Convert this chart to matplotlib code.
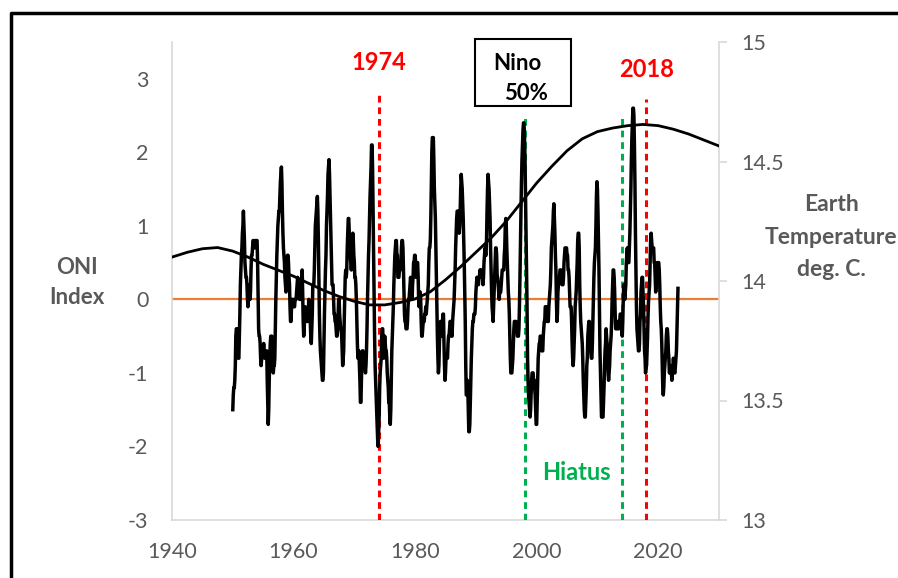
import matplotlib
matplotlib.use("Agg")
import matplotlib.pyplot as plt
from matplotlib.patches import Rectangle
from matplotlib.lines import Line2D
import numpy as np

plt.rcParams['font.family'] = ['Lato', 'DejaVu Sans']

# ONI index, 3-month seasons DJF..NDJ, one row per year
oni_1950s = [
    [-1.5, -1.3, -1.2, -1.2, -1.1, -0.9, -0.5, -0.4, -0.4, -0.4, -0.6, -0.8],
    [-0.8, -0.5, -0.2, 0.2, 0.4, 0.6, 0.7, 0.9, 1.0, 1.2, 1.0, 0.8],
    [0.5, 0.4, 0.3, 0.3, 0.2, 0.0, -0.1, 0.0, 0.2, 0.1, 0.0, 0.1],
    [0.4, 0.6, 0.6, 0.7, 0.8, 0.8, 0.7, 0.7, 0.8, 0.8, 0.8, 0.8],
    [0.8, 0.5, 0.0, -0.4, -0.5, -0.5, -0.6, -0.8, -0.9, -0.8, -0.7, -0.7],
    [-0.7, -0.6, -0.7, -0.8, -0.8, -0.7, -0.7, -0.7, -1.1, -1.4, -1.7, -1.5],
    [-1.1, -0.8, -0.6, -0.5, -0.5, -0.5, -0.6, -0.9, -1.0, -0.9, -0.9, -0.8],
    [-0.4, 0.0, 0.3, 0.6, 0.8, 1.0, 1.1, 1.2, 1.2, 1.4, 1.6, 1.7],
    [1.8, 1.6, 1.2, 0.9, 0.7, 0.6, 0.5, 0.3, 0.2, 0.1, 0.2, 0.4],
    [0.6, 0.6, 0.5, 0.3, 0.2, -0.1, -0.3, -0.3, -0.1, 0.0, 0.0, 0.0],
]
oni_1960s = [
    [-0.1, -0.1, -0.1, 0.0, 0.0, 0.0, 0.1, 0.2, 0.3, 0.2, 0.1, 0.1],
    [0.0, 0.0, 0.0, 0.1, 0.3, 0.4, 0.1, -0.3, -0.5, -0.4, -0.2, -0.1],
    [-0.2, -0.3, -0.2, -0.3, -0.3, -0.2, 0.0, -0.1, -0.2, -0.3, -0.5, -0.6],
    [-0.4, -0.2, 0.2, 0.2, 0.2, 0.4, 0.7, 1.0, 1.1, 1.2, 1.3, 1.4],
    [1.2, 0.8, 0.3, -0.2, -0.5, -0.7, -0.8, -0.9, -1.0, -1.1, -1.1, -1.0],
    [-0.6, -0.2, 0.1, 0.4, 0.6, 1.0, 1.2, 1.4, 1.7, 1.8, 1.9, 1.7],
    [1.4, 1.1, 0.8, 0.5, 0.2, 0.2, 0.2, 0.0, -0.2, -0.2, -0.3, -0.3],
    [-0.4, -0.5, -0.5, -0.4, -0.2, 0.0, 0.0, -0.2, -0.3, -0.4, -0.4, -0.5],
    [-0.7, -0.9, -0.8, -0.7, -0.3, 0.0, 0.3, 0.4, 0.3, 0.4, 0.7, 0.9],
    [1.1, 1.1, 0.9, 0.8, 0.6, 0.5, 0.4, 0.5, 0.8, 0.9, 0.8, 0.6],
]
oni_1970s = [
    [0.5, 0.3, 0.3, 0.2, 0.0, -0.3, -0.6, -0.8, -0.8, -0.7, -0.9, -1.1],
    [-1.4, -1.4, -1.1, -0.8, -0.7, -0.7, -0.8, -0.8, -0.8, -0.9, -1.0, -0.9],
    [-0.7, -0.4, 0.0, 0.3, 0.6, 0.8, 1.1, 1.4, 1.6, 1.8, 2.1, 2.1],
    [1.8, 1.2, 0.5, -0.1, -0.5, -0.9, -1.1, -1.3, -1.5, -1.7, -1.9, -2.0],
    [-1.8, -1.6, -1.2, -1.0, -0.9, -0.8, -0.5, -0.4, -0.4, -0.6, -0.8, -0.6],
    [-0.5, -0.6, -0.7, -0.7, -0.8, -1.0, -1.1, -1.2, -1.4, -1.4, -1.6, -1.7],
    [-1.5, -1.1, -0.7, -0.5, -0.3, -0.1, 0.2, 0.4, 0.6, 0.7, 0.8, 0.8],
    [0.6, 0.6, 0.3, 0.3, 0.3, 0.4, 0.4, 0.4, 0.5, 0.7, 0.8, 0.8],
    [0.7, 0.4, 0.1, -0.2, -0.3, -0.3, -0.4, -0.4, -0.4, -0.3, -0.1, 0.0],
    [0.0, 0.1, 0.2, 0.3, 0.2, 0.0, 0.0, 0.2, 0.3, 0.5, 0.5, 0.6],
]
oni_1980s = [
    [0.6, 0.5, 0.3, 0.4, 0.5, 0.5, 0.3, 0.0, -0.1, 0.0, 0.1, 0.0],
    [-0.3, -0.5, -0.5, -0.4, -0.3, -0.3, -0.3, -0.2, -0.2, -0.1, -0.2, -0.1],
    [0.0, 0.1, 0.2, 0.5, 0.7, 0.7, 0.8, 1.1, 1.6, 2.0, 2.2, 2.2],
    [2.2, 1.9, 1.5, 1.3, 1.1, 0.7, 0.3, -0.1, -0.5, -0.8, -1.0, -0.9],
    [-0.6, -0.4, -0.3, -0.4, -0.5, -0.4, -0.3, -0.2, -0.2, -0.6, -0.9, -1.1],
    [-1.0, -0.8, -0.8, -0.8, -0.8, -0.6, -0.5, -0.5, -0.4, -0.3, -0.3, -0.4],
    [-0.5, -0.5, -0.3, -0.2, -0.1, 0.0, 0.2, 0.4, 0.7, 0.9, 1.1, 1.2],
    [1.2, 1.2, 1.1, 0.9, 1.0, 1.2, 1.5, 1.7, 1.6, 1.5, 1.3, 1.1],
    [0.8, 0.5, 0.1, -0.3, -0.9, -1.3, -1.3, -1.1, -1.2, -1.5, -1.8, -1.8],
    [-1.7, -1.4, -1.1, -0.8, -0.6, -0.4, -0.3, -0.3, -0.2, -0.2, -0.2, -0.1],
]
oni_1990s = [
    [0.1, 0.2, 0.3, 0.3, 0.2, 0.2, 0.3, 0.3, 0.4, 0.3, 0.4, 0.4],
    [0.4, 0.3, 0.2, 0.3, 0.5, 0.6, 0.7, 0.6, 0.6, 0.8, 1.2, 1.5],
    [1.7, 1.6, 1.5, 1.3, 1.1, 0.7, 0.4, 0.1, -0.1, -0.2, -0.3, -0.1],
    [0.1, 0.3, 0.5, 0.7, 0.7, 0.6, 0.3, 0.3, 0.2, 0.1, 0.0, 0.1],
    [0.1, 0.1, 0.2, 0.3, 0.4, 0.4, 0.4, 0.4, 0.6, 0.7, 1.0, 1.1],
    [1.0, 0.7, 0.5, 0.3, 0.1, 0.0, -0.2, -0.5, -0.8, -1.0, -1.0, -1.0],
    [-0.9, -0.8, -0.6, -0.4, -0.3, -0.3, -0.3, -0.3, -0.4, -0.4, -0.5, -0.5],
    [-0.5, -0.4, -0.1, 0.3, 0.8, 1.2, 1.6, 1.9, 2.1, 2.3, 2.4, 2.4],
    [2.2, 1.9, 1.4, 1.0, 0.5, -0.1, -0.8, -1.1, -1.3, -1.4, -1.5, -1.6],
    [-1.5, -1.3, -1.1, -1.0, -1.0, -1.0, -1.1, -1.1, -1.2, -1.3, -1.5, -1.7],
]
oni_2000s = [
    [-1.7, -1.4, -1.1, -0.8, -0.7, -0.6, -0.6, -0.5, -0.5, -0.6, -0.7, -0.7],
    [-0.7, -0.5, -0.4, -0.3, -0.3, -0.1, -0.1, -0.1, -0.2, -0.3, -0.3, -0.3],
    [-0.1, 0.0, 0.1, 0.2, 0.4, 0.7, 0.8, 0.9, 1.0, 1.2, 1.3, 1.1],
    [0.9, 0.6, 0.4, 0.0, -0.3, -0.2, 0.1, 0.2, 0.3, 0.3, 0.4, 0.4],
    [0.4, 0.3, 0.2, 0.2, 0.2, 0.3, 0.5, 0.6, 0.7, 0.7, 0.7, 0.7],
    [0.6, 0.6, 0.4, 0.4, 0.3, 0.1, -0.1, -0.1, -0.1, -0.3, -0.6, -0.8],
    [-0.9, -0.8, -0.6, -0.4, -0.1, 0.0, 0.1, 0.3, 0.5, 0.8, 0.9, 0.9],
    [0.7, 0.2, -0.1, -0.3, -0.4, -0.5, -0.6, -0.8, -1.1, -1.3, -1.5, -1.6],
    [-1.6, -1.4, -1.2, -0.9, -0.8, -0.5, -0.4, -0.3, -0.3, -0.4, -0.6, -0.7],
    [-0.8, -0.8, -0.6, -0.3, 0.0, 0.3, 0.5, 0.6, 0.7, 1.0, 1.4, 1.6],
]
oni_2010s = [
    [1.5, 1.2, 0.8, 0.4, -0.2, -0.7, -1.0, -1.3, -1.6, -1.6, -1.6, -1.6],
    [-1.4, -1.2, -0.9, -0.7, -0.6, -0.4, -0.5, -0.6, -0.8, -1.0, -1.1, -1.0],
    [-0.9, -0.7, -0.6, -0.5, -0.3, 0.0, 0.2, 0.4, 0.4, 0.3, 0.1, -0.2],
    [-0.4, -0.4, -0.3, -0.3, -0.4, -0.4, -0.4, -0.3, -0.3, -0.2, -0.2, -0.3],
    [-0.4, -0.5, -0.3, 0.0, 0.2, 0.2, 0.0, 0.1, 0.2, 0.5, 0.6, 0.7],
    [0.5, 0.5, 0.5, 0.7, 0.9, 1.2, 1.5, 1.9, 2.2, 2.4, 2.6, 2.6],
    [2.5, 2.1, 1.6, 0.9, 0.4, -0.1, -0.4, -0.5, -0.6, -0.7, -0.7, -0.6],
    [-0.3, -0.2, 0.1, 0.2, 0.3, 0.3, 0.1, -0.1, -0.4, -0.7, -0.8, -1.0],
    [-0.9, -0.9, -0.7, -0.5, -0.2, 0.0, 0.1, 0.2, 0.5, 0.8, 0.9, 0.8],
    [0.7, 0.7, 0.7, 0.7, 0.5, 0.5, 0.3, 0.1, 0.2, 0.3, 0.5, 0.5],
]
oni_2020s = [
    [0.5, 0.5, 0.4, 0.2, -0.1, -0.3, -0.4, -0.6, -0.9, -1.2, -1.3, -1.2],
    [-1.0, -0.9, -0.8, -0.7, -0.5, -0.4, -0.4, -0.5, -0.7, -0.8, -1.0, -1.0],
    [-1.0, -0.9, -1.0, -1.1, -1.0, -0.9, -0.8, -0.9, -1.0, -1.0, -0.9, -0.8],
    [-0.7, -0.4, -0.1, 0.15],
]

# Earth temperature curve (deg C)
temp_years = [1940, 1942.5, 1945, 1947.5, 1950, 1952.5, 1955, 1957.5, 1960, 1962.5,
              1965, 1967.5, 1970, 1972.5, 1975, 1977.5, 1980, 1982.5, 1985, 1987.5,
              1990, 1992.5, 1995, 1997.5, 2000, 2002.5, 2005, 2007.5, 2010, 2012.5,
              2015, 2017.5, 2020, 2022.5, 2025, 2027.5, 2030]
temp_vals = [14.10, 14.12, 14.135, 14.14, 14.125, 14.10, 14.07, 14.045, 14.02, 13.99,
             13.96, 13.935, 13.915, 13.90, 13.90, 13.91, 13.925, 13.955, 14.005, 14.06,
             14.12, 14.18, 14.25, 14.33, 14.41, 14.48, 14.545, 14.595, 14.625, 14.64,
             14.65, 14.655, 14.65, 14.635, 14.615, 14.59, 14.565]

red_years = [1974, 2018]
green_years = [1998, 2014]

oni = []
for decade in [oni_1950s, oni_1960s, oni_1970s, oni_1980s, oni_1990s, oni_2000s, oni_2010s, oni_2020s]:
    for row in decade:
        oni.extend(row)
oni = np.array(oni)
oni_t = 1950 + np.arange(len(oni)) / 12.0

W, H = 898, 578
fig = plt.figure(figsize=(W / 100, H / 100), dpi=100)
ax = fig.add_axes([172 / W, 1 - 520 / H, (719 - 172) / W, (520 - 42) / H])
ax2 = ax.twinx()

gray = '#595959'
spine = '#d9d9d9'

ax.set_xlim(1940, 2030)
ax.set_ylim(-3, 3.5)
ax2.set_ylim(13, 15)

ax.axhline(0, color='#ED7D31', lw=1.6, zorder=2)
for yr in red_years:
    top = 2.82 if yr == 1974 else 2.73
    ax.plot([yr, yr], [-3, top], color='#FF0000', lw=2.2, dashes=(2.2, 1.6), zorder=3)
for yr in green_years:
    ax.plot([yr, yr], [-3, 2.48], color='#00B050', lw=2.2, dashes=(2.2, 1.6), zorder=3)

ax.plot(oni_t, oni, color='black', lw=2.5, zorder=4)
ax2.plot(temp_years, temp_vals, color='black', lw=2.0, zorder=4)

ax.set_xticks([1940, 1960, 1980, 2000, 2020])
ax.set_yticks([-3, -2, -1, 0, 1, 2, 3])
ax.set_yticklabels(['-3', '-2', '-1', '0', '1', '2', '3'])
ax2.set_yticks([13, 13.5, 14, 14.5, 15])
ax2.set_yticklabels(['13', '13.5', '14', '14.5', '15'])

ax.tick_params(axis='x', length=0, pad=16, labelsize=15.5, labelcolor=gray)
ax.tick_params(axis='y', length=0, pad=17, labelsize=15.5, labelcolor=gray)
ax2.tick_params(axis='y', length=6, width=1.2, color=spine, pad=10, labelsize=15.5, labelcolor=gray)

for a in (ax, ax2):
    a.spines['top'].set_visible(False)
    for s in ('left', 'bottom', 'right'):
        a.spines[s].set_color(spine)
        a.spines[s].set_linewidth(1.2)
ax.spines['right'].set_visible(False)
ax2.spines['left'].set_visible(False)
ax2.spines['bottom'].set_visible(False)

# annotations
ax.text(1974, 3.22, '1974', color='#FF0000', fontsize=17, fontweight='bold', ha='center', va='center')
ax.text(2018, 3.12, '2018', color='#FF0000', fontsize=17, fontweight='bold', ha='center', va='center')
ax.text(2006.5, -2.35, 'Hiatus', color='#00B050', fontsize=17, fontweight='bold', ha='center', va='center')

fig.text(77 / W, 1 - 268 / H, 'ONI', color=gray, fontsize=16, fontweight='bold', ha='center', va='center')
fig.text(77 / W, 1 - 298 / H, 'Index', color=gray, fontsize=16, fontweight='bold', ha='center', va='center')
fig.text(831 / W, 1 - 204 / H, 'Earth', color=gray, fontsize=16.5, fontweight='bold', ha='center', va='center')
fig.text(831 / W, 1 - 237 / H, 'Temperature', color=gray, fontsize=16.5, fontweight='bold', ha='center', va='center')
fig.text(831 / W, 1 - 269 / H, 'deg. C.', color=gray, fontsize=16.5, fontweight='bold', ha='center', va='center')

# Nino box
fig.add_artist(Rectangle((475 / W, 1 - 106 / H), 96 / W, 67 / H, transform=fig.transFigure,
                         facecolor='white', edgecolor='black', lw=1.5, zorder=5))
fig.text(517 / W, 1 - 63 / H, 'Nino', color='black', fontsize=16, fontweight='bold',
         ha='center', va='center', zorder=6)
fig.text(526 / W, 1 - 93 / H, '50%', color='black', fontsize=16, fontweight='bold',
         ha='center', va='center', zorder=6)

# outer frame
fig.add_artist(Line2D([11 / W, 11 / W, 1.01], [-0.01, 1 - 13 / H, 1 - 13 / H],
                      transform=fig.transFigure, color='black', lw=2.5))

fig.savefig('out.png', dpi=100)
